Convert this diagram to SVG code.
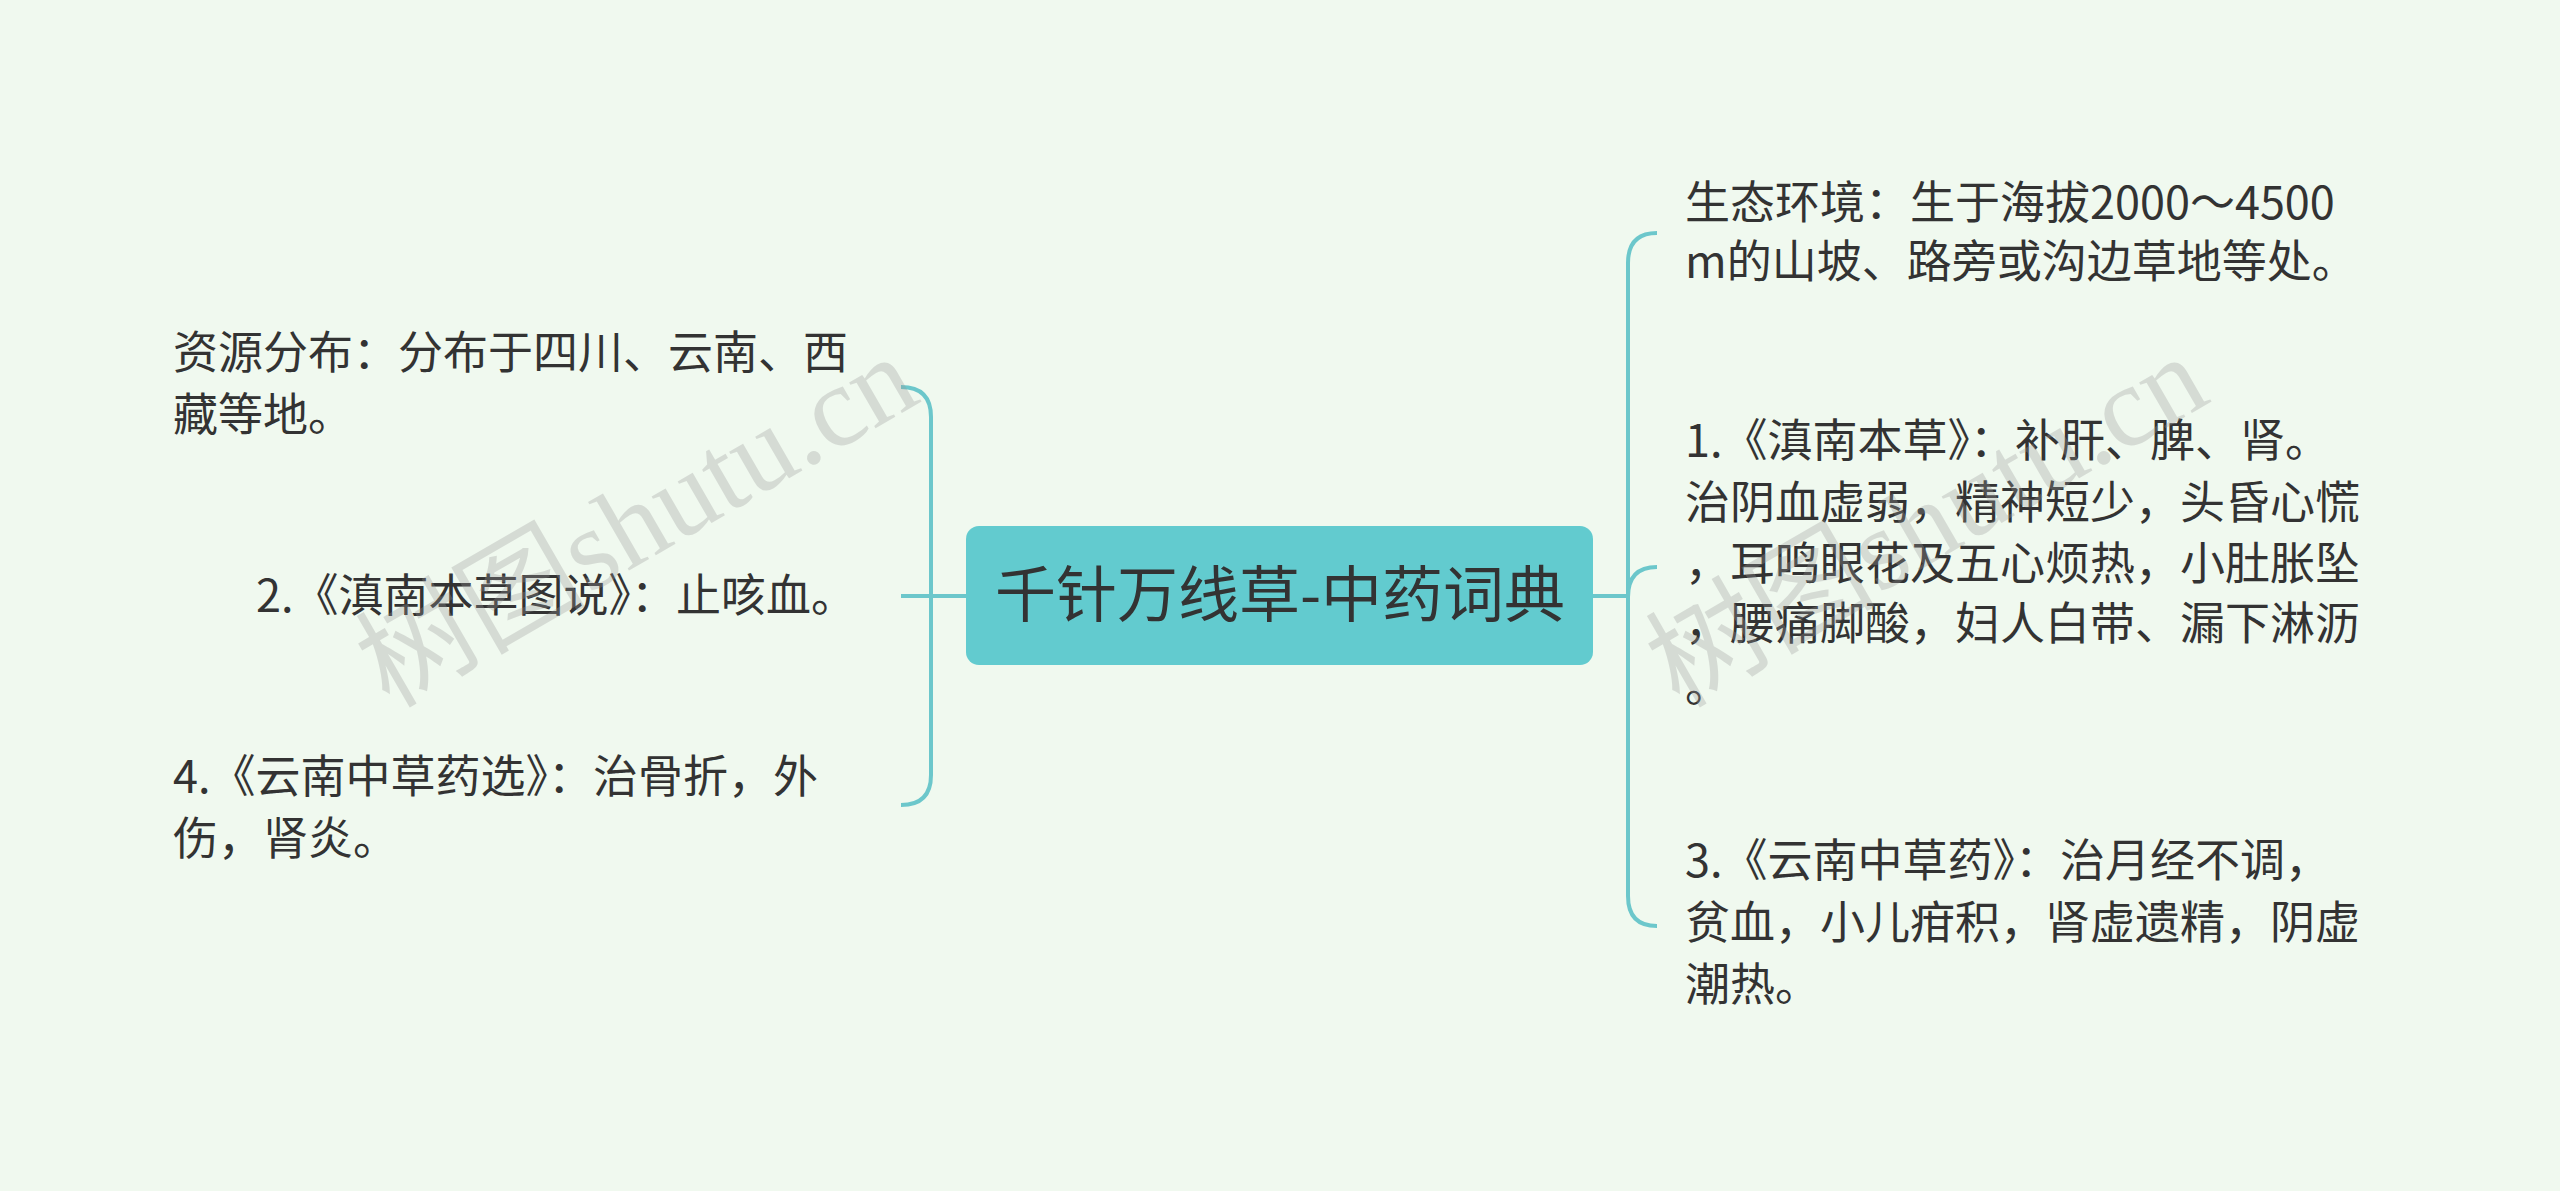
<svg xmlns="http://www.w3.org/2000/svg" width="2560" height="1191" viewBox="0 0 2560 1191">
<style>
.t{font-family:"Noto Sans CJK SC","Noto Sans",sans-serif;font-size:45px;fill:#333}
.c{fill:none;stroke:#6CC7CB;stroke-width:4}
.wm{font-family:"Liberation Serif","Noto Sans CJK SC",serif;font-size:115px;fill:#999;opacity:0.3}
</style>
<rect width="2560" height="1191" fill="#F0F9EF"/>
<g id="connectors">
<path class="c" d="M966 596H901"/>
<path class="c" d="M901 387Q931 387 931 417V775Q931 805 901 805"/>
<path class="c" d="M1593 596H1628"/>
<path class="c" d="M1657 233Q1628 233 1628 263V896Q1628 926 1657 926"/>
<path class="c" d="M1657 567Q1628 567 1628 597"/>
</g>
<g id="center">
<rect x="966" y="526" width="627" height="139" rx="13" fill="#62CBCF"/>
<text x="1280" y="617" text-anchor="middle" style="font-family:'Noto Sans CJK SC',sans-serif;font-size:61px;fill:#333">千针万线草-中药词典</text>
</g>
<g id="left1"><text class="t" x="173" y="369">资源分布：分布于四川、云南、西</text><text class="t" x="173" y="431">藏等地。</text></g>
<g id="left2"><text class="t" x="256" y="612">2.《滇南本草图说》：止咳血。</text></g>
<g id="left3"><text class="t" x="173" y="793">4.《云南中草药选》：治骨折，外</text><text class="t" x="173" y="855">伤，肾炎。</text></g>
<g id="right1"><text class="t" x="1685" y="219">生态环境：生于海拔2000～4500</text><text class="t" x="1685" y="278">m的山坡、路旁或沟边草地等处。</text></g>
<g id="right2">
<text class="t" x="1685" y="457">1.《滇南本草》：补肝、脾、肾。</text>
<text class="t" x="1685" y="519">治阴血虚弱，精神短少，头昏心慌</text>
<text class="t" x="1685" y="580">，耳鸣眼花及五心烦热，小肚胀坠</text>
<text class="t" x="1685" y="640">，腰痛脚酸，妇人白带、漏下淋沥</text>
<text class="t" x="1685" y="702">。</text>
</g>
<g id="right3">
<text class="t" x="1685" y="877">3.《云南中草药》：治月经不调，</text>
<text class="t" x="1685" y="939">贫血，小儿疳积，肾虚遗精，阴虚</text>
<text class="t" x="1685" y="1001">潮热。</text>
</g>
<text class="wm" x="637" y="560" text-anchor="middle" transform="rotate(-30 637 522)">树图shutu.cn</text>
<text class="wm" x="1927" y="560" text-anchor="middle" transform="rotate(-30 1927 522)">树图shutu.cn</text>
</svg>
